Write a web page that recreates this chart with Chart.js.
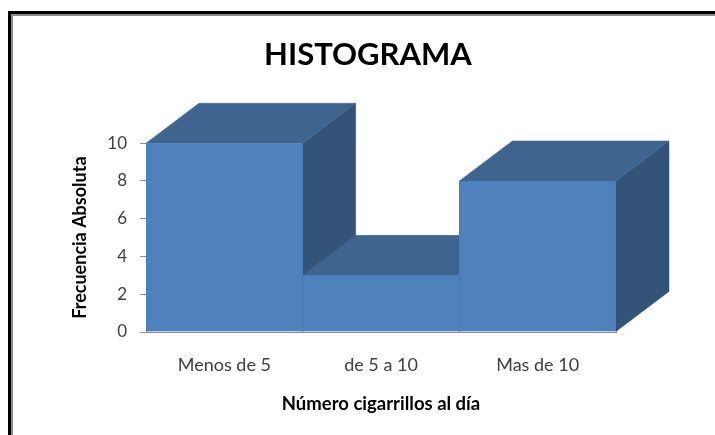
<!DOCTYPE html>
<html>
<head>
<meta charset="utf-8">
<style>
  html, body { margin: 0; background: #fff; overflow: hidden; }
  #frame { position: absolute; left: 8px; top: 11px; width: 800px; height: 500px; border: solid #000; border-width: 3px 0 0 3px; }
  #frame div { width: 100%; height: 100%; border: solid #8c8c8c; border-width: 2px 0 0 2px; }
  canvas { position: absolute; left: 0; top: 0; }
</style>
</head>
<body>
<div id="frame"><div></div></div>
<canvas id="myChart" width="715" height="435"></canvas>
<script src="https://cdn.jsdelivr.net/npm/chart.js@4/dist/chart.umd.js"></script>
<script>
const categories = ['Menos de 5', 'de 5 a 10', 'Mas de 10']
const frequencies = [10, 3, 8]
const yTicks = [0, 2, 4, 6, 8, 10]

const FRONT = '#4f81bd'
const TOP = '#3f648f'
const SIDE = '#335379'
const depthX = 53
const depthY = 40

function face(ctx, points, fill) {
  ctx.fillStyle = fill
  ctx.strokeStyle = fill
  ctx.lineWidth = 0.5
  ctx.beginPath()
  points.forEach((p, i) => i ? ctx.lineTo(p[0], p[1]) : ctx.moveTo(p[0], p[1]))
  ctx.closePath()
  ctx.fill()
  ctx.stroke()
}

// Chart.js has no 3d bars, so the top and side faces are added behind each front
const box3d = {
  id: 'box3d',
  beforeDatasetsDraw(chart) {
    const ctx = chart.ctx
    chart.getDatasetMeta(0).data.forEach(bar => {
      const half = bar.width / 2
      const l = bar.x - half, r = bar.x + half, t = bar.y, b = bar.base
      ctx.save()
      face(ctx, [[r, t], [r + depthX, t - depthY], [r + depthX, b - depthY], [r, b]], SIDE)
      face(ctx, [[l, t], [l + depthX, t - depthY], [r + depthX, t - depthY], [r, t]], TOP)
      ctx.restore()
    })
  }
}

new Chart(document.getElementById('myChart'), {
  type: 'bar',
  data: {
    labels: categories,
    datasets: [{
      data: frequencies,
      backgroundColor: FRONT,
      borderColor: '#4b7cb7',
      borderWidth: 1,
      barPercentage: 1,
      categoryPercentage: 1
    }]
  },
  options: {
    responsive: false,
    animation: false,
    layout: { padding: { left: 21 } },
    plugins: {
      legend: { display: false },
      tooltip: { enabled: false },
      title: {
        display: true,
        text: 'HISTOGRAMA',
        color: '#000',
        font: { family: 'Lato', size: 31, weight: 'bold' },
        padding: { top: 36, bottom: 70 }
      }
    },
    scales: {
      x: {
        grid: { display: false },
        border: { color: '#8c8c8c' },
        ticks: { color: '#404040', font: { family: 'Lato', size: 18 }, padding: 14 },
        title: {
          display: true,
          text: 'Número cigarrillos al día',
          color: '#000',
          font: { family: 'Lato', size: 18.5, weight: 'bold' },
          padding: { top: 0, bottom: 20 }
        },
        afterFit: s => { s.height = 103 }
      },
      y: {
        min: 0,
        max: 10,
        afterBuildTicks: s => { s.ticks = yTicks.map(value => ({ value })) },
        grid: { drawOnChartArea: false, tickLength: 6, color: '#8c8c8c' },
        border: { color: '#8c8c8c' },
        ticks: { color: '#404040', font: { family: 'Lato', size: 17 }, padding: 13 },
        title: {
          display: true,
          text: 'Frecuencia Absoluta',
          color: '#000',
          font: { family: 'Lato', size: 18, weight: 'bold' },
          padding: { top: 48 }
        },
        afterFit: s => { s.width = 125 }
      },
      // empty axis, keeps room on the right for the depth of the boxes
      depth: {
        position: 'right',
        grid: { display: false },
        border: { display: false },
        ticks: { display: false },
        afterFit: s => { s.width = 99 }
      }
    }
  },
  plugins: [box3d]
})
</script>
</body>
</html>
